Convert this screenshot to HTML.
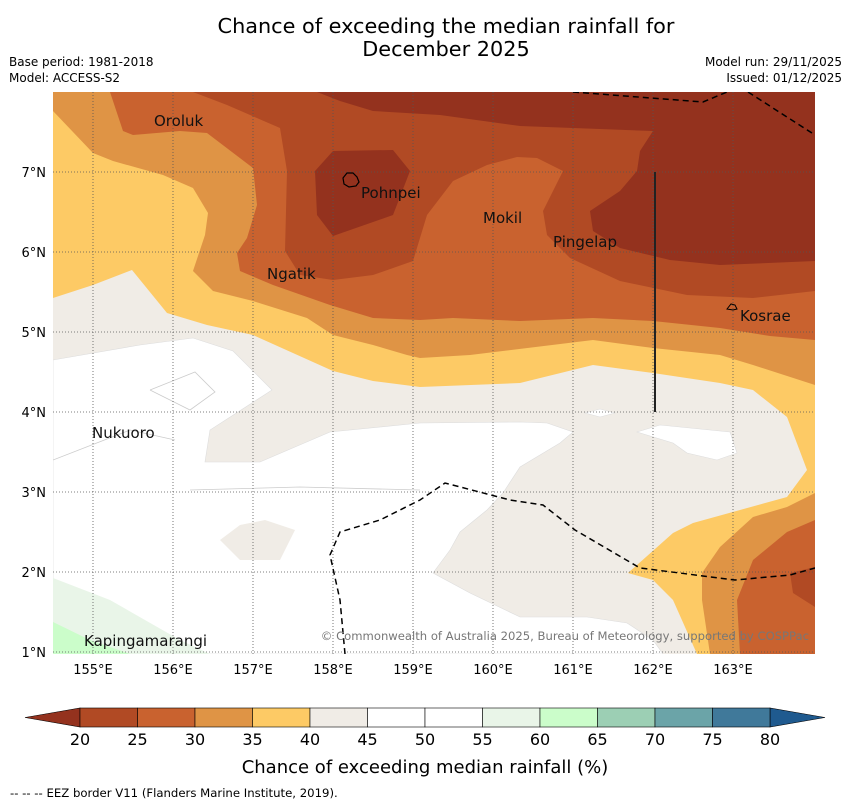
<!DOCTYPE html>
<html><head><meta charset="utf-8"><style>
body{margin:0;background:#fff;font-family:"Liberation Sans","DejaVu Sans",sans-serif;}
svg text{font-family:"DejaVu Sans","Liberation Sans",sans-serif;}
</style></head><body>
<svg id="m" width="850" height="804" xmlns="http://www.w3.org/2000/svg">
<text x="446" y="33" font-size="20.8" text-anchor="middle">Chance of exceeding the median rainfall for</text>
<text x="446" y="56" font-size="20.8" text-anchor="middle">December 2025</text>
<text x="9" y="66" font-size="12">Base period: 1981-2018</text>
<text x="9" y="82" font-size="12">Model: ACCESS-S2</text>
<text x="842" y="66" font-size="12" text-anchor="end">Model run: 29/11/2025</text>
<text x="842" y="82" font-size="12" text-anchor="end">Issued: 01/12/2025</text>
<defs><clipPath id="pc"><rect x="53" y="92" width="762" height="562"/></clipPath></defs>
<g id="map" clip-path="url(#pc)"></g>
<g id="ov"></g>
<text x="10" y="797" font-size="11.7">--  --  -- EEZ border V11 (Flanders Marine Institute, 2019).</text>
</svg>
<script>
const levels=[20,25,30,35,40,45,50,55,60,65,70,75,80];
const binColors=['#b14a24','#c9622f','#df9445','#fdca65','#f0ece6','#ffffff','#ffffff','#e9f5e8','#cbfdca','#9ccfb4','#6ba4a8','#40799a'];
const extLow='#94321e', extHigh='#1f5a8f';
const lonTicks=[155,156,157,158,159,160,161,162,163];
const latTicks=[1,2,3,4,5,6,7];
const X=lon=>93+(lon-155)*80, Y=lat=>652-(lat-1)*80;
const NS='http://www.w3.org/2000/svg';
const map=document.getElementById('map'), ov=document.getElementById('ov');
function mk(t,a,p){const e=document.createElementNS(NS,t);for(const k in a)e.setAttribute(k,a[k]);(p||map).appendChild(e);return e;}
const shapes=[
 ['beige','#f0ece6',[[53,92],[815,92],[815,654],[53,654]]],
 ['white','#ffffff',[[53,360],[140,345],[193,338],[233,351],[272,390],[210,430],[205,462],[260,462],[330,432],[420,423],[520,422],[547,423],[573,432],[560,443],[520,467],[503,493],[487,510],[460,532],[450,550],[433,573],[470,593],[520,617],[587,617],[627,623],[653,640],[663,654],[53,654]]],
 ['white-patch-1','#ffffff',[[585,413],[600,409],[615,413],[600,417]]],
 ['white-patch-2','#ffffff',[[637,432],[660,425],[730,432],[737,453],[717,460],[687,453],[673,443]]],
 ['beige-blob','#f0ece6',[[220,540],[240,525],[265,520],[295,530],[280,560],[240,560]]],
 ['green-55','#e9f5e8',[[53,578],[110,600],[180,640],[210,654],[53,654]]],
 ['green-60','#cbfdca',[[53,622],[90,640],[130,654],[53,654]]],
 ['yellow','#fdca65',[[53,92],[815,92],[815,654],[697,654],[673,600],[653,580],[628,573],[673,533],[693,523],[787,497],[807,470],[787,417],[753,390],[720,383],[653,373],[593,365],[520,383],[420,387],[373,381],[333,371],[253,335],[207,325],[167,313],[132,270],[93,285],[53,298]]],
 ['orange-north','#df9445',[[53,92],[53,111],[93,153],[113,161],[163,175],[193,188],[208,213],[205,235],[193,271],[213,291],[253,301],[307,318],[333,335],[373,345],[407,355],[420,358],[470,355],[593,340],[653,348],[720,355],[753,365],[815,385],[815,92]]],
 ['orange-se','#df9445',[[815,493],[787,507],[753,517],[720,547],[702,573],[702,600],[710,654],[815,654]]],
 ['mid-north','#c9622f',[[110,92],[123,131],[133,135],[180,131],[207,133],[253,168],[257,205],[247,238],[237,253],[240,271],[273,285],[330,305],[373,318],[420,320],[453,318],[520,321],[593,318],[653,321],[720,328],[770,336],[815,340],[815,92]]],
 ['mid-se','#c9622f',[[815,520],[787,532],[753,560],[737,600],[740,654],[815,654]]],
 ['dark-north','#b14a24',[[193,92],[227,105],[280,128],[287,171],[285,251],[300,275],[333,280],[373,275],[413,261],[427,215],[440,198],[453,181],[487,165],[517,157],[537,158],[563,171],[543,211],[547,235],[570,258],[620,281],[687,295],[753,298],[815,291],[815,92]]],
 ['dark-se','#b14a24',[[815,567],[790,573],[793,593],[815,607]]],
 ['darkest-north','#94321e',[[317,92],[340,101],[373,111],[440,115],[520,126],[653,131],[640,151],[637,171],[620,191],[590,211],[593,231],[620,248],[670,260],[720,265],[815,261],[815,92]]],
 ['darkest-pohnpei','#94321e',[[333,151],[393,150],[410,171],[393,215],[333,236],[317,215],[315,171]]]
];
shapes.forEach(s=>{const p=mk('polygon',{points:s[2].map(q=>q.join(',')).join(' '),fill:s[1],stroke:s[1]==='#ffffff'?'#ddd':'none','stroke-width':0.6});

});
[[[53,460],[130,430],[175,440]],[[190,490],[300,487],[420,490]],[[150,390],[195,372],[215,392],[190,410],[150,390]]].forEach(l=>{const e=mk('polyline',{points:l.map(q=>q.join(',')).join(' '),fill:'none',stroke:'#ccc','stroke-width':0.8});

});
lonTicks.forEach(v=>{const e=mk('line',{x1:X(v),x2:X(v),y1:92,y2:654,stroke:'#555','stroke-width':0.8,'stroke-dasharray':'1,2'});


const t=mk('text',{x:X(v),y:674,'font-size':13,'text-anchor':'middle'},ov);t.textContent=v+'°E';

});
latTicks.forEach(v=>{const e=mk('line',{x1:53,x2:815,y1:Y(v),y2:Y(v),stroke:'#555','stroke-width':0.8,'stroke-dasharray':'1,2'});


const t=mk('text',{x:46,y:Y(v)+5,'font-size':13,'text-anchor':'end'},ov);t.textContent=v+'°N';

});
[[[573,92],[703,102],[727,92]],[[748,92],[815,135]],[[345,654],[340,600],[330,555],[340,532],[380,520],[420,500],[445,483],[510,500],[543,505],[575,530],[640,568],[735,580],[790,575],[815,568]]].forEach(l=>{const e=mk('polyline',{points:l.map(q=>q.join(',')).join(' '),fill:'none',stroke:'#000','stroke-width':1.5,'stroke-dasharray':'6,4'});

});
const vl=mk('line',{x1:655,x2:655,y1:172,y2:412,stroke:'#222','stroke-width':2});


const isl=mk('path',{d:'M343,178 l4,-5 6,0 4,4 2,5 -3,4 -7,1 -5,-3z',fill:'none',stroke:'#000','stroke-width':1.2});


const ks=mk('path',{d:'M727,309 l4,-5 4,1 2,4 -4,1z',fill:'none',stroke:'#000','stroke-width':1});


const places=[['Oroluk',154,126],['Pohnpei',361,198],['Mokil',483,223],['Pingelap',553,247],['Ngatik',267,279],['Kosrae',740,321],['Nukuoro',92,438],['Kapingamarangi',84,646]];
places.forEach(p=>{const t=mk('text',{x:p[1],y:p[2],'font-size':15,fill:'#111'},ov);t.textContent=p[0];

});
const cp=mk('text',{x:809,y:640,'font-size':11.6,fill:'#777','text-anchor':'end'},ov);cp.textContent='© Commonwealth of Australia 2025, Bureau of Meteorology, supported by COSPPac';


const cbX=v=>80+(v-20)*(690/60), cy=708, ch=19;
const lo=mk('polygon',{points:`25,${cy+ch/2} ${cbX(20)},${cy} ${cbX(20)},${cy+ch}`,fill:extLow,stroke:'#000','stroke-width':0.6},ov);


const hi=mk('polygon',{points:`825,${cy+ch/2} ${cbX(80)},${cy} ${cbX(80)},${cy+ch}`,fill:extHigh,stroke:'#000','stroke-width':0.6},ov);


binColors.forEach((c,i)=>{const r=mk('rect',{x:cbX(levels[i]),y:cy,width:cbX(levels[i+1])-cbX(levels[i]),height:ch,fill:c,stroke:'#000','stroke-width':0.6},ov);

});
levels.forEach(v=>{const t=mk('text',{x:cbX(v),y:745,'font-size':16,'text-anchor':'middle'},ov);t.textContent=v;

});
const ct=mk('text',{x:425,y:773,'font-size':18,'text-anchor':'middle'},ov);ct.textContent='Chance of exceeding median rainfall (%)';


</script>
</body></html>
